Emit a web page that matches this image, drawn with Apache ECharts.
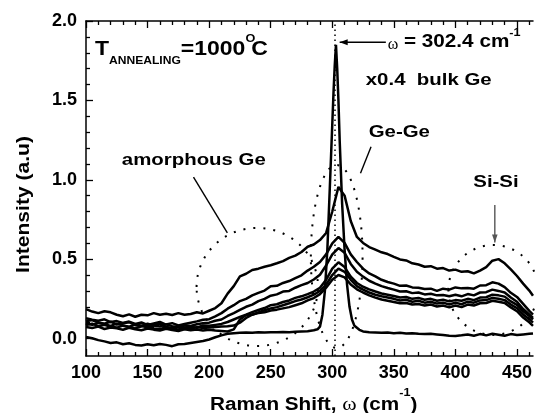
<!DOCTYPE html>
<html><head><meta charset="utf-8">
<script src="https://cdn.jsdelivr.net/npm/echarts@6/dist/echarts.min.js"></script>
<style>html,body{margin:0;padding:0;background:#fff}#c{width:535px;height:413px}</style>
</head><body><div id="c"></div>
<script>
// ---------- data ----------
const shift = [100,105,110,115,120,125,130,135,140,145,150,155,160,165,170,175,180,185,190,195,
  200,205,210,215,220,225,230,235,240,245,250,255,260,265,270,275,280,285,290,295,
  300,305,310,315,320,325,330,335,340,345,350,355,360,365,370,375,380,385,390,395,
  400,405,410,415,420,425,430,435,440,445,450,455,460,463];
const sample1 = [.185,.170,.160,.172,.165,.150,.140,.152,.137,.150,
  .146,.160,.150,.156,.148,.160,.150,.155,.166,.158,
  .175,.192,.222,.283,.330,.392,.408,.432,.440,.452,
  .462,.474,.488,.508,.522,.545,.578,.592,.620,.665,
  .800,.955,.900,.740,.640,.602,.576,.560,.543,.532,
  .514,.498,.492,.474,.466,.452,.456,.440,.444,.428,
  .434,.420,.424,.410,.428,.450,.490,.500,.474,.436,
  .394,.346,.302,.270];
const sample2 = [.128,.118,.112,.121,.104,.110,.098,.107,.092,.101,
  .086,.095,.104,.088,.097,.083,.092,.100,.108,.118,
  .122,.140,.160,.188,.210,.236,.250,.272,.288,.302,
  .330,.332,.350,.362,.380,.398,.428,.452,.482,.530,
  .600,.640,.602,.530,.482,.440,.410,.392,.370,.356,
  .346,.332,.334,.322,.320,.312,.314,.300,.314,.308,
  .322,.316,.318,.314,.334,.336,.354,.346,.324,.288,
  .262,.218,.174,.150];
const sample3 = [.108,.116,.100,.094,.106,.088,.096,.103,.084,.079,
  .093,.082,.076,.089,.078,.071,.084,.079,.090,.096,
  .100,.112,.120,.142,.160,.180,.200,.214,.236,.250,
  .270,.278,.296,.300,.320,.336,.350,.372,.402,.460,
  .530,.570,.540,.470,.420,.390,.364,.346,.330,.318,
  .308,.296,.298,.286,.290,.278,.282,.272,.274,.266,
  .276,.266,.280,.272,.290,.292,.308,.300,.290,.258,
  .232,.186,.152,.130];
const sample4 = [.095,.086,.099,.091,.080,.094,.083,.074,.088,.080,
  .070,.082,.093,.072,.066,.079,.070,.075,.068,.082,
  .080,.086,.092,.104,.120,.136,.150,.166,.180,.192,
  .210,.216,.230,.240,.256,.266,.280,.296,.320,.370,
  .440,.480,.450,.390,.350,.326,.310,.296,.284,.276,
  .268,.258,.262,.250,.256,.244,.250,.238,.244,.234,
  .242,.238,.250,.242,.258,.260,.276,.272,.264,.234,
  .212,.172,.142,.120];
const sample5 = [.085,.094,.078,.086,.074,.069,.081,.072,.064,.077,
  .083,.064,.059,.071,.062,.057,.068,.062,.072,.066,
  .070,.072,.076,.078,.082,.100,.130,.150,.165,.178,
  .190,.198,.210,.222,.236,.246,.260,.276,.300,.340,
  .400,.440,.420,.370,.330,.308,.290,.276,.266,.258,
  .250,.240,.244,.232,.238,.226,.232,.220,.226,.214,
  .226,.216,.232,.226,.240,.242,.256,.250,.242,.214,
  .192,.152,.122,.100];
const sample6 = [.072,.066,.075,.060,.069,.064,.055,.067,.059,.052,
  .063,.056,.050,.061,.054,.048,.058,.052,.057,.050,
  .055,.050,.048,.044,.058,.120,.148,.152,.160,.166,
  .176,.182,.190,.198,.210,.222,.240,.255,.280,.320,
  .370,.400,.385,.340,.310,.290,.272,.258,.246,.238,
  .230,.222,.224,.214,.218,.208,.214,.202,.208,.196,
  .208,.198,.214,.208,.222,.224,.238,.232,.224,.196,
  .172,.132,.102,.080];
const bulkShift = [100,105,110,115,120,125,130,135,140,145,150,155,160,165,170,175,180,185,190,195,
  200,205,210,215,220,225,230,235,240,245,250,255,260,265,270,275,280,285,
  288,290,292,294,296,298,300,301,302,303,304,305,306,307,308,310,312,314,316,318,322,325,330,
  335,340,345,350,355,360,365,370,375,380,385,390,395,400,405,410,415,420,425,430,435,440,445,450,455,460,463];
const bulkGe = [.010,.002,-.010,-.018,-.028,-.024,-.036,-.030,-.040,-.044,
  -.036,-.042,-.034,-.040,-.048,-.036,-.034,-.028,-.022,-.016,
  -.006,.008,.020,.030,.034,.036,.038,.036,.040,.038,
  .040,.039,.041,.040,.042,.044,.046,.052,
  .058,.075,.150,.300,.560,.950,1.350,1.550,1.720,1.850,1.700,1.500,1.250,1.050,.850,.560,.340,.200,.120,.080,.055,.045,.040,
  .038,.036,.038,.034,.036,.032,.034,.030,.028,.030,.026,.022,.018,.016,.020,.026,.018,.028,.020,.030,.024,.018,.028,.022,.026,.030,.032];
const peakShift = 302.4;
const xMajorTicks = [100,150,200,250,300,350,400,450];
const xMinorTicks = [110,120,130,140,160,170,180,190,210,220,230,240,260,270,280,290,310,320,330,340,360,370,380,390,410,420,430,440,460];
const yMajorTicks = [0,0.5,1.0,1.5,2.0];
const yMinorTicks = [0.1,0.2,0.3,0.4,0.6,0.7,0.8,0.9,1.1,1.2,1.3,1.4,1.6,1.7,1.8,1.9];
const xMin = 100, xMax = 463, yMin = -0.11, yMax = 2.0;

// ---------- chart ----------
const SANS = '"Liberation Sans", Arial, sans-serif';
const SERIF = '"Liberation Serif", "Times New Roman", serif';
const chart = echarts.init(document.getElementById('c'), null, {renderer: 'canvas'});
const lineSt = {color: '#000', width: 1.5};
const tickSt = {color: '#000', width: 1.3};
function xAx(pos, major) {
  return {type: 'value', min: xMin, max: xMax, position: pos, splitLine: {show: false},
    axisLine: {show: major, onZero: false, lineStyle: lineSt},
    axisTick: {show: true, inside: true, length: major ? 7 : 4, lineStyle: tickSt,
      customValues: major ? xMajorTicks : xMinorTicks},
    axisLabel: (major && pos === 'bottom') ? {show: true, customValues: xMajorTicks, margin: 8,
      color: '#000', fontSize: 18, fontWeight: 'bold', fontFamily: SANS} : {show: false}};
}
function yAx(major) {
  return {type: 'value', min: yMin, max: yMax, position: 'left', splitLine: {show: false},
    axisLine: {show: major, onZero: false, lineStyle: lineSt},
    axisTick: {show: true, inside: true, length: major ? 7 : 4, lineStyle: tickSt,
      customValues: major ? yMajorTicks : yMinorTicks},
    axisLabel: major ? {show: true, customValues: yMajorTicks, margin: 9, color: '#000',
      fontSize: 18, fontWeight: 'bold', fontFamily: SANS, formatter: v => Number(v).toFixed(1)} : {show: false}};
}
function ser(xs, ys, extra) {
  return Object.assign({type: 'line', data: xs.map((x, i) => [x, ys[i]]), showSymbol: false, symbol: 'none',
    lineStyle: {color: '#000', width: 2.5}, silent: true, z: 3}, extra || {});
}
const option = {
  animation: false,
  backgroundColor: '#fff',
  textStyle: {fontFamily: SANS},
  grid: {left: 86, top: 21, width: 449, height: 335, containLabel: false},
  xAxis: [xAx('bottom', true), xAx('bottom', false), xAx('top', true), xAx('top', false)],
  yAxis: [yAx(true), yAx(false)],
  series: [
    ser(shift, sample6), ser(shift, sample5), ser(shift, sample4), ser(shift, sample3),
    ser(shift, sample2), ser(shift, sample1),
    ser(bulkShift, bulkGe, {markLine: {silent: true, symbol: ['none', 'none'], label: {show: false},
      lineStyle: {color: '#000', width: 1.5, type: [1.5, 3.5]}, data: [{xAxis: peakShift}]}})
  ]
};
chart.setOption(option);

// ---------- annotations ----------
const mctx = document.createElement('canvas').getContext('2d');
function tw(t, font) { mctx.font = font; return mctx.measureText(t).width; }
const P = (x, y) => chart.convertToPixel({xAxisIndex: 0, yAxisIndex: 0}, [x, y]);
const g = [];
function seq(x0, y0, parts, scale) {
  let x = x0;
  parts.forEach(p => {
    const fam = p.serif ? SERIF : SANS, wt = p.normal ? 'normal' : 'bold';
    const sc = p.sc || scale;
    g.push({type: 'text', x: x, y: y0 + (p.dy || 0), scaleX: sc, silent: true, z: 100,
      style: {text: p.t, fill: '#000', fontSize: p.s, fontWeight: wt, fontFamily: fam, align: 'left', verticalAlign: 'middle'}});
    x += tw(p.t, wt + ' ' + p.s + 'px ' + fam) * sc + (p.gap || 0);
  });
}
function ell(cx, cy, rx, ry) {
  const c = P(cx, cy), r1 = P(cx + rx, cy), r2 = P(cx, cy + ry);
  g.push({type: 'ellipse', silent: true, z: 90, shape: {cx: c[0], cy: c[1], rx: Math.abs(r1[0] - c[0]), ry: Math.abs(c[1] - r2[1])},
    style: {fill: 'none', stroke: '#000', lineWidth: 2, lineDash: [2, 8]}});
}
function seg(a, b, color, w) {
  const p1 = P(a[0], a[1]), p2 = P(b[0], b[1]);
  g.push({type: 'line', silent: true, z: 95, shape: {x1: p1[0], y1: p1[1], x2: p2[0], y2: p2[1]},
    style: {stroke: color, lineWidth: w}});
  return [p1, p2];
}
function head(from, to, color, len, hw) {
  const dx = to[0] - from[0], dy = to[1] - from[1], L = Math.hypot(dx, dy), ux = dx / L, uy = dy / L;
  const bx = to[0] - ux * len, by = to[1] - uy * len;
  g.push({type: 'polygon', silent: true, z: 96, shape: {points: [[to[0], to[1]], [bx - uy * hw, by + ux * hw], [bx + uy * hw, by - ux * hw]]},
    style: {fill: color}});
}
// dotted circles
ell(239.1, 0.325, 49.3, 0.372);
ell(303.6, 0.517, 21.0, 0.576);
ell(430.7, 0.306, 36.4, 0.283);
// leader lines
seg([187.3, 1.017], [214.8, 0.665], '#000', 1.4);
seg([331.5, 1.208], [322.9, 1.041], '#000', 1.4);
let s = seg([432.0, 0.841], [432.0, 0.605], '#555', 1.4); head(s[0], s[1], '#555', 8, 2.8);
s = seg([343.5, 1.866], [306.0, 1.866], '#000', 1.4); head(s[0], s[1], '#000', 8, 3);
// texts
let a = P(107.3, 1.819);
seq(a[0], a[1], [{t: 'T', s: 20}, {t: 'ANNEALING', s: 10.5, dy: 11.3}, {t: '=1000', s: 20},
  {t: 'O', s: 11, dy: -10.7, gap: -4}, {t: 'C', s: 20}], 1.15);
a = P(344.2, 1.849);
seq(a[0] + 1, a[1], [{t: 'ω', s: 16, serif: true, normal: true, sc: 1}, {t: ' = 302.4 cm', s: 18, dy: -2.5},
  {t: '-1', s: 11, dy: -12.5}], 1.15);
a = P(327.2, 1.628); seq(a[0], a[1], [{t: 'x0.4  bulk Ge', s: 17}], 1.2);
a = P(129.1, 1.121); seq(a[0], a[1], [{t: 'amorphous Ge', s: 17}], 1.2);
a = P(329.6, 1.298); seq(a[0], a[1], [{t: 'Ge-Ge', s: 17}], 1.2);
a = P(414.5, 0.986); seq(a[0], a[1], [{t: 'Si-Si', s: 17}], 1.2);
// axis titles
seq(210, 405.5, [{t: 'Raman Shift, ', s: 18}, {t: 'ω', s: 19, serif: true, normal: true}, {t: ' (cm', s: 18},
  {t: '-1', s: 11, dy: -13}, {t: ')', s: 18}], 1.15);
g.push({type: 'text', x: 24.5, y: 204.5, rotation: Math.PI / 2, scaleX: 1.17, silent: true, z: 100,
  style: {text: 'Intensity (a.u)', fill: '#000', fontSize: 18, fontWeight: 'bold', fontFamily: SANS, align: 'center', verticalAlign: 'middle'}});
chart.setOption({graphic: g});
</script>
</body></html>
